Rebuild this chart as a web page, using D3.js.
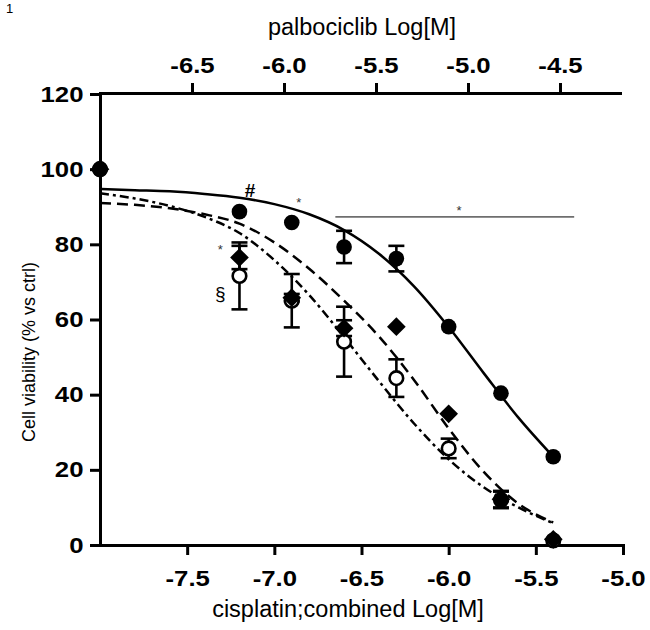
<!DOCTYPE html>
<html><head><meta charset="utf-8">
<script src="https://cdn.jsdelivr.net/npm/d3@7"></script>
<style>body{margin:0;background:#fff}</style>
</head><body>
<svg id="chart" width="650" height="630"></svg>
<script>
// ---- data ----
const doses = [-8, -7.2, -6.9, -6.6, -6.3, -6.0, -5.7, -5.4];
const cisplatinMean = [100, 88.7, 85.8, 79.3, 76.2, 58.1, 40.4, 23.5];
const cisplatinErr  = [0, 0, 0, 4.3, 3.4, 0, 0, 0];
const diamondMean   = [100, 76.5, 65.8, 57.7, 58.1, 34.9, 12.2, 1.5];
const diamondErr    = [0, 3.1, 1.0, 2.1, 0, 0, 2.2, 0];
const openMean      = [100, 71.6, 65.0, 54.1, 44.4, 25.7, 12.0, 1.2];
const openErr       = [0, 8.9, 7.1, 9.3, 5.0, 2.6, 2.2, 0];

const curveX       = [-8, -7.8, -7.6, -7.4, -7.2, -7.0, -6.8, -6.6, -6.4, -6.2, -6.0, -5.8, -5.6, -5.4];
const solidCurve   = [94.7, 94.4, 94.1, 93.4, 92.4, 90.7, 88.0, 83.8, 77.5, 68.9, 58.0, 45.8, 33.9, 23.5];
const dashedCurve  = [91.0, 90.5, 89.6, 88.0, 85.5, 80.5, 73.5, 65.0, 55.5, 44.0, 31.0, 19.5, 11.0, 6.0];
const dashDotCurve = [93.6, 92.2, 90.2, 87.3, 83.0, 75.8, 66.5, 55.3, 43.6, 32.4, 22.8, 15.4, 10.0, 5.8];

const bottomTicks = [-7.5, -7.0, -6.5, -6.0, -5.5, -5.0];
const topTicks    = [-6.5, -6.0, -5.5, -5.0, -4.5];
const yTicks      = [0, 20, 40, 60, 80, 100, 120];

const bottomTitle = "cisplatin;combined Log[M]";
const topTitle    = "palbociclib Log[M]";
const yTitle      = "Cell viability (% vs ctrl)";

// significance marks: [text, dose, value]
const marks = [["#", -7.14, 92.5], ["*", -6.86, 90.0], ["*", -7.31, 77.3], ["§", -7.31, 65.3], ["*", -5.94, 87.8]];
const sigLine = [-6.65, -5.28, 87.3];

// ---- layout ----
const svg = d3.select("#chart");
const x = d3.scaleLinear().domain([-8, -5]).range([100, 623]);
const xTop = d3.scaleLinear().domain([-7.0, -4.174]).range([100, 620]);
const y = d3.scaleLinear().domain([0, 120]).range([545, 94]);
const fmt = d => d.toFixed(1);
const SX = 1.17;
const tickFont = "'Liberation Sans', Arial, sans-serif";

function styleAxis(g) {
  g.select(".domain").attr("stroke", "#000").attr("stroke-width", 3).attr("stroke-linecap", "square");
  g.selectAll(".tick line").attr("stroke", "#000").attr("stroke-width", 3);
  g.selectAll(".tick text").attr("fill", "#000").style("font-family", tickFont)
    .style("font-weight", "bold").style("font-size", "22px");
}

const gB = svg.append("g").attr("transform", "translate(0,545)")
  .call(d3.axisBottom(x).tickValues(bottomTicks).tickFormat(fmt).tickSize(10).tickSizeOuter(0));
styleAxis(gB);
gB.selectAll(".tick text").attr("y", 41).attr("dy", 0).attr("transform", `scale(${SX},1)`);

const gT = svg.append("g").attr("transform", "translate(0,93)")
  .call(d3.axisTop(xTop).tickValues(topTicks).tickFormat(fmt).tickSize(10).tickSizeOuter(0));
styleAxis(gT);
gT.selectAll(".tick text").attr("y", -20).attr("dy", 0).attr("transform", `scale(${SX},1)`);

const gL = svg.append("g").attr("transform", "translate(100,0)")
  .call(d3.axisLeft(y).tickValues(yTicks).tickFormat(d3.format("d")).tickSize(10).tickSizeOuter(0));
styleAxis(gL);
gL.selectAll(".tick text").attr("x", -16.5 / SX).attr("transform", `scale(${SX},1)`);

// titles
const titleFont = "'Liberation Sans', Arial, sans-serif";
svg.append("text").attr("x", 348).attr("y", 617).attr("text-anchor", "middle")
  .style("font-family", titleFont).style("font-size", "23.5px").text(bottomTitle);
svg.append("text").attr("x", 362).attr("y", 35).attr("text-anchor", "middle")
  .style("font-family", titleFont).style("font-size", "23.5px").text(topTitle);
svg.append("text").attr("transform", "translate(35,352) rotate(-90)").attr("text-anchor", "middle")
  .style("font-family", titleFont).style("font-size", "18px").text(yTitle);
svg.append("text").attr("x", 6).attr("y", 13).style("font-family", titleFont).style("font-size", "13px").text("1");

// curves
const line = d3.line().x(d => x(d[0])).y(d => y(d[1])).curve(d3.curveMonotoneX);
const curves = [
  [solidCurve, null],
  [dashedCurve, "11,6"],
  [dashDotCurve, "9,4,3,4"]
];
curves.forEach(([vals, dash]) => {
  svg.append("path").datum(curveX.map((c, i) => [c, vals[i]]))
    .attr("d", line).attr("fill", "none").attr("stroke", "#000").attr("stroke-width", 2.5)
    .attr("stroke-dasharray", dash);
});

// significance line and marks
svg.append("line").attr("x1", x(sigLine[0])).attr("x2", x(sigLine[1]))
  .attr("y1", y(sigLine[2])).attr("y2", y(sigLine[2])).attr("stroke", "#6e6e6e").attr("stroke-width", 1.6);
marks.forEach(([t, dx, vy]) => {
  const size = t === "*" ? 13 : (t === "#" ? 19 : 19);
  svg.append("text").attr("x", x(dx)).attr("y", y(vy)).attr("text-anchor", "middle")
    .style("font-family", titleFont).style("font-size", size + "px")
    .style("font-weight", t === "#" ? "bold" : "normal").attr("fill", t === "*" ? "#333" : "#000").text(t);
});

// error bars
function errBars(means, errs) {
  doses.forEach((d, i) => {
    if (!errs[i]) return;
    const cx = x(d), y1 = y(means[i] - errs[i]), y2 = y(means[i] + errs[i]);
    const g = svg.append("g").attr("stroke", "#000").attr("stroke-width", 2.6);
    g.append("line").attr("x1", cx).attr("x2", cx).attr("y1", y1).attr("y2", y2);
    g.append("line").attr("x1", cx - 8).attr("x2", cx + 8).attr("y1", y1).attr("y2", y1);
    g.append("line").attr("x1", cx - 8).attr("x2", cx + 8).attr("y1", y2).attr("y2", y2);
  });
}
errBars(openMean, openErr);
errBars(diamondMean, diamondErr);
errBars(cisplatinMean, cisplatinErr);

// markers
svg.append("g").selectAll("circle").data(doses).join("circle")
  .attr("cx", d => x(d)).attr("cy", (d, i) => y(openMean[i])).attr("r", 6.8)
  .attr("fill", "#fff").attr("stroke", "#000").attr("stroke-width", 2.6);
const diamond = d3.symbol().type(d3.symbolSquare).size(175);
svg.append("g").selectAll("path").data(doses).join("path")
  .attr("d", diamond)
  .attr("transform", (d, i) => `translate(${x(d)},${y(diamondMean[i])}) rotate(45)`)
  .attr("fill", "#000");
svg.append("g").selectAll("circle").data(doses).join("circle")
  .attr("cx", d => x(d)).attr("cy", (d, i) => y(cisplatinMean[i])).attr("r", 7.8)
  .attr("fill", "#000");
</script>
</body></html>
